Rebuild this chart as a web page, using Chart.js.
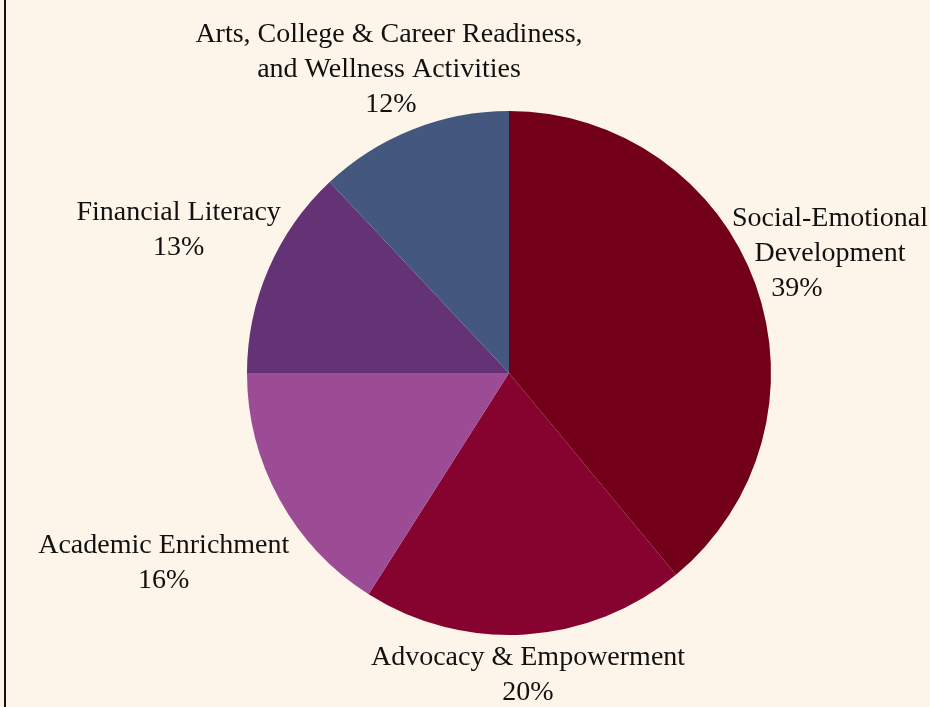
<!DOCTYPE html>
<html>
<head>
<meta charset="utf-8">
<script src="https://cdn.jsdelivr.net/npm/chart.js@4"></script>
<style>
  html, body { margin: 0; padding: 0; background: #fdf5e9; }
  #wrap { width: 930px; height: 707px; }
</style>
</head>
<body>
<div id="wrap"><canvas id="pie"></canvas></div>
<script>
// data
const labels = [
    ['Social-Emotional', 'Development'],
    ['Advocacy & Empowerment'],
    ['Academic Enrichment'],
    ['Financial Literacy'],
    ['Arts, College & Career Readiness,', 'and Wellness Activities']
];
const shares = [39, 20, 16, 13, 12];
const colors = ['#730019', '#86032f', '#9c4c94', '#633375', '#44577f'];

// fondo + línea izquierda
const backdrop = {
    id: 'backdrop',
    beforeDraw(chart) {
        const ctx = chart.ctx;
        ctx.save();
        ctx.fillStyle = '#fdf5e9';
        ctx.fillRect(0, 0, chart.width, chart.height);
        ctx.strokeStyle = '#111';
        ctx.lineWidth = 2;
        ctx.beginPath();
        ctx.moveTo(5, 0);
        ctx.lineTo(5, chart.height);
        ctx.stroke();
        ctx.restore();
    }
};

// distancia del centro del pastel a un rectángulo
function rectDist(arc, x0, x1, y0, y1) {
    const px = Math.max(x0, Math.min(arc.x, x1));
    const py = Math.max(y0, Math.min(arc.y, y1));
    return Math.hypot(px - arc.x, py - arc.y);
}

// etiquetas fuera del pastel, empujadas hasta que no toquen el círculo
const outsideLabels = {
    id: 'outsideLabels',
    afterDatasetsDraw(chart, args, opts) {
        const ctx = chart.ctx;
        const meta = chart.getDatasetMeta(0);
        ctx.save();
        ctx.font = opts.font;
        ctx.fillStyle = '#111';
        ctx.textAlign = 'center';
        ctx.textBaseline = 'middle';
        meta.data.forEach((arc, i) => {
            const lines = labels[i].concat([shares[i] + '%']);
            const widths = lines.map(l => ctx.measureText(l).width);
            const mid = (arc.startAngle + arc.endAngle) / 2;
            const dx = Math.cos(mid), dy = Math.sin(mid);
            const r = arc.outerRadius;
            const n = lines.length;
            const half = opts.capHalf;
            const lineY = (cy, k) => cy + (k - (n - 1) / 2) * opts.lineHeight;
            let t = r + opts.minDist;
            const clear = (cx, cy) => lines.every((l, k) => {
                const ly = lineY(cy, k);
                return rectDist(arc, cx - widths[k] / 2, cx + widths[k] / 2, ly - half, ly + half) >= r + opts.pad;
            });
            while (!clear(arc.x + t * dx, arc.y + t * dy) && t < r + 400) t += 1;
            let cx = arc.x + t * dx;
            const cy = arc.y + t * dy;
            // mantener dentro del lienzo
            const maxW = Math.max(...widths);
            cx = Math.min(cx, chart.width - 2 - maxW / 2);
            cx = Math.max(cx, 12 + maxW / 2);
            lines.forEach((l, k) => {
                let x = cx;
                const ly = lineY(cy, k);
                // el porcentaje de etiquetas largas se acerca al pastel
                if (n > 2 && k === n - 1) {
                    const step = arc.x > cx ? 1 : -1;
                    while (Math.abs(arc.x - x) > widths[k] / 2 &&
                           rectDist(arc, x + step - widths[k] / 2, x + step + widths[k] / 2, ly - half, ly + half) >= r + opts.pad) {
                        x += step;
                    }
                }
                ctx.fillText(l, x, ly);
            });
        });
        ctx.restore();
    }
};

new Chart(document.getElementById('pie'), {
    type: 'pie',
    data: {
        labels: labels,
        datasets: [{
            data: shares,
            backgroundColor: colors,
            borderWidth: 0
        }]
    },
    options: {
        responsive: true,
        maintainAspectRatio: false,
        animation: false,
        layout: { padding: { left: 247, right: 159, top: 111, bottom: 72 } },
        plugins: {
            legend: { display: false },
            tooltip: { enabled: false },
            outsideLabels: {
                font: '28px "Liberation Serif", "DejaVu Serif", serif',
                lineHeight: 35,
                capHalf: 13,
                pad: 9,
                minDist: 32
            }
        }
    },
    plugins: [backdrop, outsideLabels]
});
</script>
</body>
</html>
